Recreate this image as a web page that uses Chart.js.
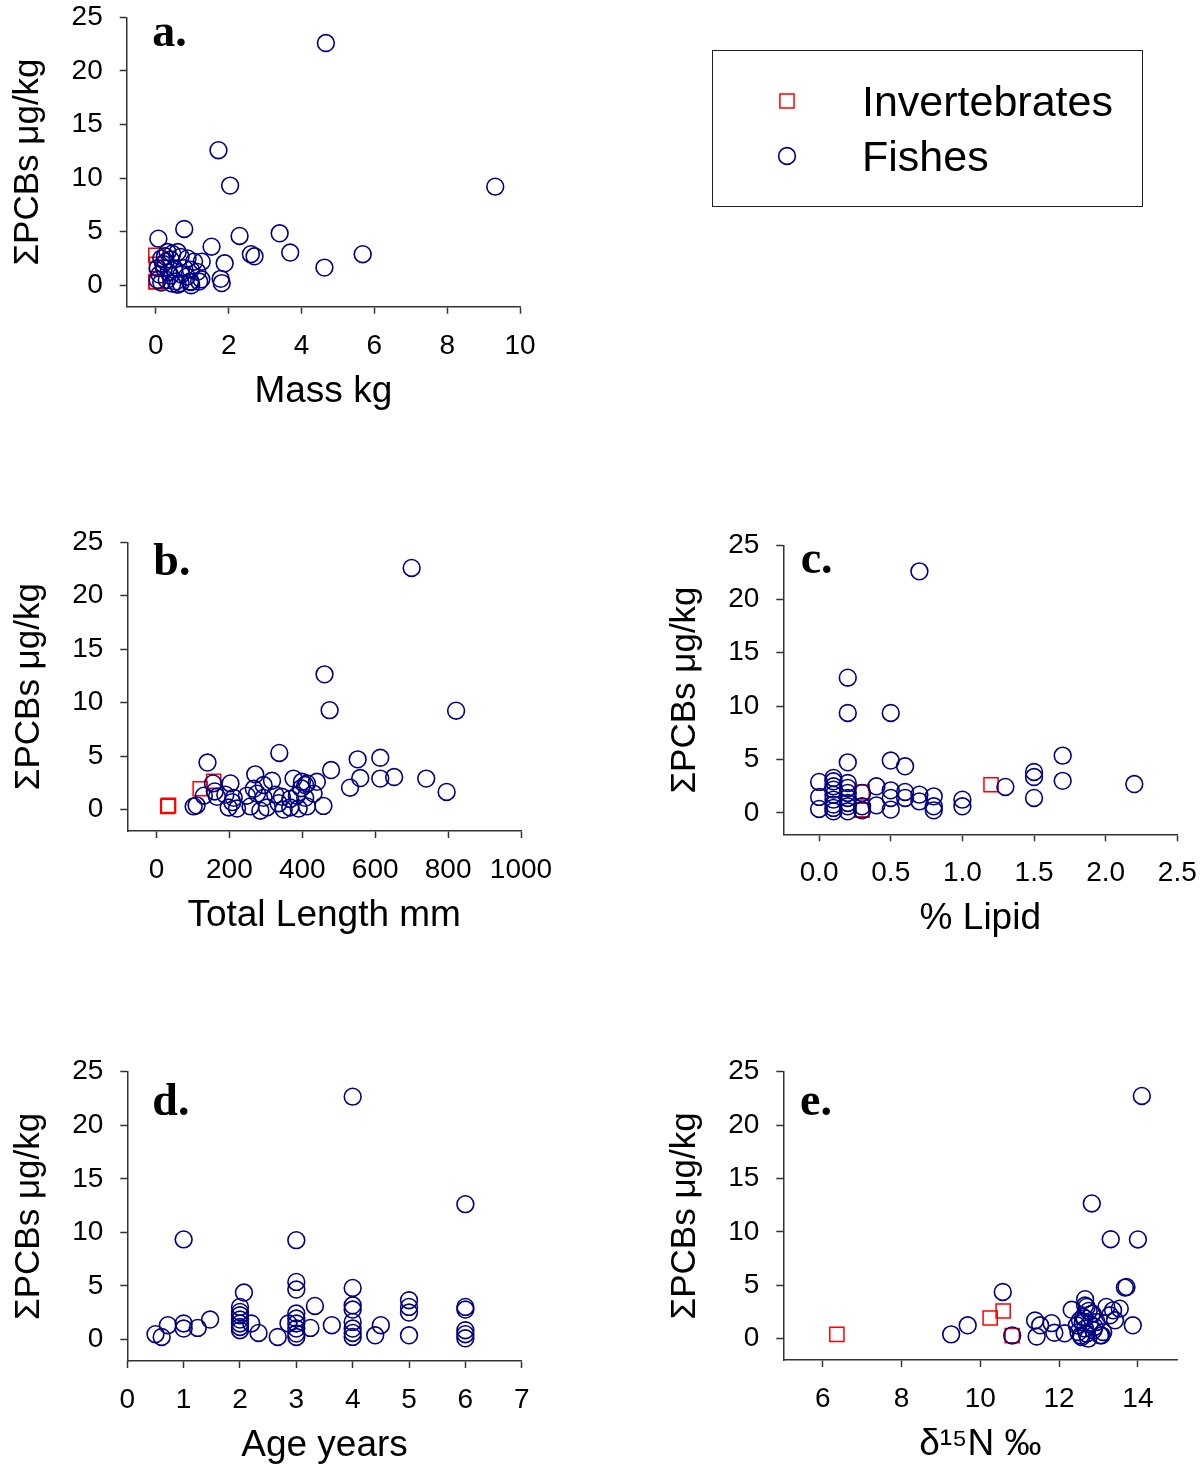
<!DOCTYPE html>
<html>
<head>
<meta charset="utf-8">
<script src="https://cdn.jsdelivr.net/npm/chart.js@4.4.1/dist/chart.umd.min.js"></script>
<style>
  body { margin: 0; background: #fff; }
  #wrap { position: relative; width: 1204px; height: 1473px; overflow: hidden; background: #fff; }
  #wrap canvas { position: absolute; }
</style>
</head>
<body>
<div id="wrap">
  <canvas id="pa"></canvas>
  <canvas id="pb"></canvas>
  <canvas id="pc"></canvas>
  <canvas id="pd"></canvas>
  <canvas id="pe"></canvas>
</div>
<script>
// --- data ---
const seriesNames = ['Invertebrates', 'Fishes'];
const yTitle = 'ΣPCBs μg/kg';
const yTicks = [0, 5, 10, 15, 20, 25];

// a. mass (kg) vs PCBs
const massTicks = [0, 2, 4, 6, 8, 10];
const massInv = [[0.0, 2.8], [0.02, 1.95], [0.0, 0.35], [0.01, 0.3]];
const massFish = [
  [4.67, 22.6], [1.72, 12.6], [2.04, 9.3], [9.32, 9.2], [0.78, 5.25], [0.07, 4.35],
  [2.30, 4.6], [3.40, 4.85], [1.53, 3.6], [2.61, 2.9], [2.71, 2.7], [3.69, 3.05],
  [5.68, 2.9], [4.63, 1.65], [1.89, 2.05], [1.78, 0.6], [1.81, 0.2], [1.26, 2.2],
  [1.25, 0.55], [0.94, 0.35],
  [0.32, 3.1], [0.45, 2.95], [0.6, 3.1], [0.15, 2.5], [0.27, 2.2], [0.41, 2.4],
  [0.68, 2.65], [0.87, 2.5], [1.05, 2.2], [0.05, 1.6], [0.22, 1.6], [0.5, 1.45],
  [0.78, 1.6], [0.96, 1.45], [1.14, 1.25], [0.05, 0.5], [0.3, 0.5], [0.55, 0.35],
  [0.68, 0.2], [0.96, 0.3], [1.19, 0.35], [0.6, 0.05], [0.97, 0.0], [0.1, 1.0],
  [0.4, 0.9], [0.7, 1.0], [0.2, 2.0], [0.35, 1.2], [0.15, 0.25], [0.45, 0.15],
  [0.85, 0.8], [0.25, 2.7]
];

// b. total length (mm) vs PCBs
const lengthTicks = [0, 200, 400, 600, 800, 1000];
const lengthInv = [[31, 0.3], [33, 0.4], [120, 1.95], [157, 2.65]];
const lengthFish = [
  [700, 22.6], [461, 12.65], [475, 9.3], [822, 9.25], [337, 5.3], [140, 4.4],
  [552, 4.7], [614, 4.85], [479, 3.7], [559, 2.95], [614, 2.9], [652, 3.05],
  [740, 2.9], [796, 1.65], [531, 2.05],
  [271, 3.3], [203, 2.45], [317, 2.7], [376, 2.9], [399, 2.6], [440, 2.6],
  [408, 2.3], [397, 2.0], [413, 2.45], [294, 2.3], [155, 2.45], [267, 1.95],
  [130, 1.3], [166, 1.2], [189, 1.4], [212, 1.1], [248, 1.3], [276, 1.5],
  [294, 1.1], [326, 1.4], [344, 1.2], [367, 1.0], [385, 1.3], [408, 1.1],
  [431, 1.5], [160, 1.7],
  [102, 0.3], [110, 0.4], [198, 0.2], [221, 0.1], [258, 0.3], [285, -0.1],
  [303, 0.2], [349, 0.0], [367, 0.2], [390, 0.1], [413, 0.3], [458, 0.35],
  [208, 0.7], [335, 0.6]
];

// c. % lipid vs PCBs
const lipidTicks = [0, 0.5, 1.0, 1.5, 2.0, 2.5];
const lipidInv = [[0.3, 1.96], [0.3, 0.3], [0.3, 0.25], [1.2, 2.64]];
const lipidFish = [
  [0.7, 22.6], [0.2, 12.65], [0.2, 9.35], [0.5, 9.35], [0.2, 4.73], [0.5, 4.9],
  [0.6, 4.36], [1.7, 5.36], [1.7, 3.0], [1.5, 3.83], [1.5, 3.36], [1.5, 1.4],
  [2.2, 2.7], [1.3, 2.43], [1.0, 1.24], [1.0, 0.62], [0.8, 1.55], [0.8, 0.62],
  [0.8, 0.24], [0.7, 1.71], [0.7, 1.08], [0.6, 1.96], [0.6, 1.4], [0.5, 2.11],
  [0.5, 1.4], [0.5, 0.31], [0.4, 2.49], [0.4, 0.71], [0.3, 1.87], [0.3, 0.62],
  [0.3, 0.25],
  [0.2, 2.8], [0.2, 2.34], [0.2, 1.87], [0.2, 1.4], [0.2, 0.93], [0.2, 0.62], [0.2, 0.15],
  [0.1, 3.27], [0.1, 2.96], [0.1, 2.49], [0.1, 2.18], [0.1, 1.71], [0.1, 1.24],
  [0.1, 0.78], [0.1, 0.47], [0.1, 0.15],
  [0.0, 2.9], [0.0, 1.5], [0.0, 0.37]
];

// d. age (years) vs PCBs
const ageTicks = [0, 1, 2, 3, 4, 5, 6, 7];
const ageInv = [];
const ageFish = [
  [4, 22.67], [6, 12.64], [1, 9.35], [3, 9.28], [3, 5.38], [3, 4.67], [4, 4.82],
  [2.07, 4.39], [3.33, 3.14], [5, 3.67], [5, 3.05], [5, 2.52], [5, 0.4], [6, 3.05],
  [6, 2.8], [6, 0.87], [6, 0.5], [6, 0.12], [4, 3.2], [4, 2.8], [4, 1.65], [4, 1.03],
  [4, 0.62], [4, 0.25], [4.5, 1.34], [4.4, 0.4], [3.63, 1.34], [3.25, 1.09],
  [3, 2.43], [3, 1.96], [3, 1.5], [3, 1.03], [3, 0.56], [3, 0.24], [2.86, 1.5],
  [2.67, 0.24], [2.33, 0.62], [2.2, 1.5], [2, 3.05], [2, 2.58], [2, 2.27], [2, 1.87],
  [2, 1.5], [2, 1.18], [2, 0.87], [1.47, 1.87], [1.25, 1.09], [1, 1.5], [1, 1.03],
  [0.72, 1.34], [0.5, 0.5], [0.61, 0.24]
];

// e. d15N vs PCBs
const nTicks = [6, 8, 10, 12, 14];
const nInv = [[6.36, 0.4], [10.25, 1.93], [10.58, 2.59], [10.81, 0.28]];
const nFish = [
  [14.1, 22.73], [12.83, 12.66], [13.31, 9.31], [14.0, 9.29], [10.57, 4.37],
  [13.67, 4.78], [13.71, 4.84], [13.87, 1.25], [9.26, 0.4], [9.68, 1.25],
  [10.81, 0.3], [11.39, 1.7], [11.52, 1.25], [11.43, 0.2], [11.81, 1.45],
  [11.88, 0.55], [12.14, 0.5], [12.32, 2.7], [12.66, 3.7], [12.66, 3.1],
  [13.2, 2.97], [13.37, 2.65], [13.54, 2.81], [13.29, 2.19], [13.42, 1.72],
  [13.08, 0.31], [12.85, 2.34],
  [12.45, 1.25], [12.53, 1.72], [12.61, 2.03], [12.66, 0.94], [12.7, 0.47],
  [12.57, 0.15], [12.74, 0.0], [12.78, 1.4], [12.83, 2.34], [12.87, 0.78],
  [12.95, 1.56], [13.04, 0.31], [13.12, 0.62], [12.49, 0.62], [12.7, 2.97],
  [12.6, 1.5], [12.75, 2.6], [12.9, 1.1], [12.55, 0.3], [12.65, 1.9]
];

// --- layout (page pixels) ---
const FONT = 'Arial, "Liberation Sans", Helvetica, sans-serif';
const AXIS_W = 120, AXIS_H = 108;

const panels = [
  { id: 'pa', letter: 'a.', xTitle: 'Mass kg', xMin: -0.8, xMax: 10, xTicks: massTicks,
    inv: massInv, fish: massFish, digits: 0,
    frame: [0, 0, 1204, 430], area: [126.7, 17.3, 520, 306.7], letterAt: [25.6, 28.4], legend: true },
  { id: 'pb', letter: 'b.', xTitle: 'Total Length mm', xMin: -80, xMax: 1000, xTicks: lengthTicks,
    inv: lengthInv, fish: lengthFish, digits: 0,
    frame: [0, 500, 602, 470], area: [127.3, 542.3, 521, 831], letterAt: [26, 32.7] },
  { id: 'pc', letter: 'c.', xTitle: '% Lipid', xMin: -0.25, xMax: 2.5, xTicks: lipidTicks,
    inv: lipidInv, fish: lipidFish, digits: 1,
    frame: [602, 500, 602, 470], area: [783.3, 545.7, 1177.3, 834.3], letterAt: [17.4, 27.6] },
  { id: 'pd', letter: 'd.', xTitle: 'Age years', xMin: 0, xMax: 7, xTicks: ageTicks,
    inv: ageInv, fish: ageFish, digits: 0,
    frame: [0, 1030, 602, 443], area: [127.3, 1071.7, 521.7, 1361], letterAt: [25, 43.3] },
  { id: 'pe', letter: 'e.', xTitle: 'δ\u00B9\u2075N ‰', xMin: 5, xMax: 15, xTicks: nTicks,
    inv: nInv, fish: nFish, digits: 0,
    frame: [602, 1030, 602, 443], area: [783.3, 1071.7, 1177.3, 1360], letterAt: [16.7, 43.3] }
];

// --- plugins ---
const panelLetter = {
  id: 'panelLetter',
  afterDraw(chart, args, o) {
    const {ctx, chartArea} = chart;
    ctx.save();
    ctx.font = 'bold 46px "Liberation Serif", "Times New Roman", serif';
    ctx.fillStyle = '#000';
    ctx.textBaseline = 'alphabetic';
    ctx.fillText(o.text, chartArea.left + o.dx, chartArea.top + o.dy);
    ctx.restore();
  }
};

const boxLegend = {
  id: 'boxLegend',
  afterDraw(chart, args, o) {
    if (!o.show) return;
    const ctx = chart.ctx;
    ctx.save();
    ctx.strokeStyle = '#222';
    ctx.lineWidth = 1;
    ctx.strokeRect(712.5, 50.5, 430, 156);
    ctx.font = '43px ' + FONT;
    ctx.fillStyle = '#000';
    ctx.textBaseline = 'alphabetic';
    const rows = [101, 156];
    chart.data.datasets.forEach((ds, i) => {
      const cy = rows[i];
      ctx.lineWidth = ds.borderWidth;
      ctx.strokeStyle = ds.borderColor;
      ctx.beginPath();
      if (ds.pointStyle === 'rect') {
        const s = ds.pointRadius * Math.SQRT1_2;
        ctx.rect(787 - s, cy - s, 2 * s, 2 * s);
      } else {
        ctx.arc(787, cy, ds.pointRadius, 0, Math.PI * 2);
      }
      ctx.stroke();
      ctx.fillText(ds.label, 862, cy + 15);
    });
    ctx.restore();
  }
};

// --- charts ---
function makePanel(p) {
  const [fx, fy, fw, fh] = p.frame;
  const [L, T, R, B] = p.area;
  const cv = document.getElementById(p.id);
  cv.width = fw; cv.height = fh;
  cv.style.left = fx + 'px'; cv.style.top = fy + 'px';
  cv.style.width = fw + 'px'; cv.style.height = fh + 'px';

  const pad = {
    left: L - fx - AXIS_W,
    top: T - fy,
    right: fx + fw - R,
    bottom: fy + fh - B - AXIS_H
  };
  const toXY = a => a.map(d => ({x: d[0], y: d[1]}));
  const border = {display: true, color: '#333', width: 1.5};
  const grid = {drawOnChartArea: false, drawTicks: true, tickLength: 7, tickColor: '#333', tickWidth: 1.5};

  return new Chart(cv, {
    type: 'scatter',
    data: {
      datasets: [
        { label: seriesNames[0], data: toXY(p.inv), pointStyle: 'rect', pointRadius: 10,
          pointHoverRadius: 10, borderColor: '#ff0000', backgroundColor: 'rgba(0,0,0,0)',
          borderWidth: 1.5, order: 2, clip: false },
        { label: seriesNames[1], data: toXY(p.fish), pointStyle: 'circle', pointRadius: 8.4,
          pointHoverRadius: 8.4, borderColor: '#000080', backgroundColor: 'rgba(0,0,0,0)',
          borderWidth: 1.6, order: 1, clip: false }
      ]
    },
    options: {
      responsive: false,
      animation: false,
      events: [],
      layout: { padding: pad },
      plugins: {
        legend: { display: false },
        tooltip: { enabled: false },
        panelLetter: { text: p.letter, dx: p.letterAt[0], dy: p.letterAt[1] },
        boxLegend: { show: !!p.legend }
      },
      scales: {
        x: {
          type: 'linear', min: p.xMin, max: p.xMax,
          afterBuildTicks: s => { s.ticks = p.xTicks.map(v => ({value: v})); },
          afterFit: s => { s.height = AXIS_H; s.paddingLeft = 0; s.paddingRight = 0; },
          border, grid,
          ticks: { color: '#000', font: {family: FONT, size: 28}, padding: 15.5,
                   maxRotation: 0, autoSkip: false, callback: v => v.toFixed(p.digits) },
          title: { display: true, text: p.xTitle, color: '#000', font: {family: FONT, size: 37},
                   padding: {top: 0, bottom: 1} }
        },
        y: {
          type: 'linear', min: -2, max: 25,
          afterBuildTicks: s => { s.ticks = yTicks.map(v => ({value: v})); },
          afterFit: s => { s.width = AXIS_W; s.paddingTop = 0; s.paddingBottom = 0; },
          border, grid,
          ticks: { color: '#000', font: {family: FONT, size: 28}, padding: 17, autoSkip: false },
          title: { display: true, text: yTitle, color: '#000', font: {family: FONT, size: 35},
                   padding: {top: 1, bottom: 0} }
        }
      }
    },
    plugins: [panelLetter, boxLegend]
  });
}

panels.forEach(makePanel);
</script>
</body>
</html>
